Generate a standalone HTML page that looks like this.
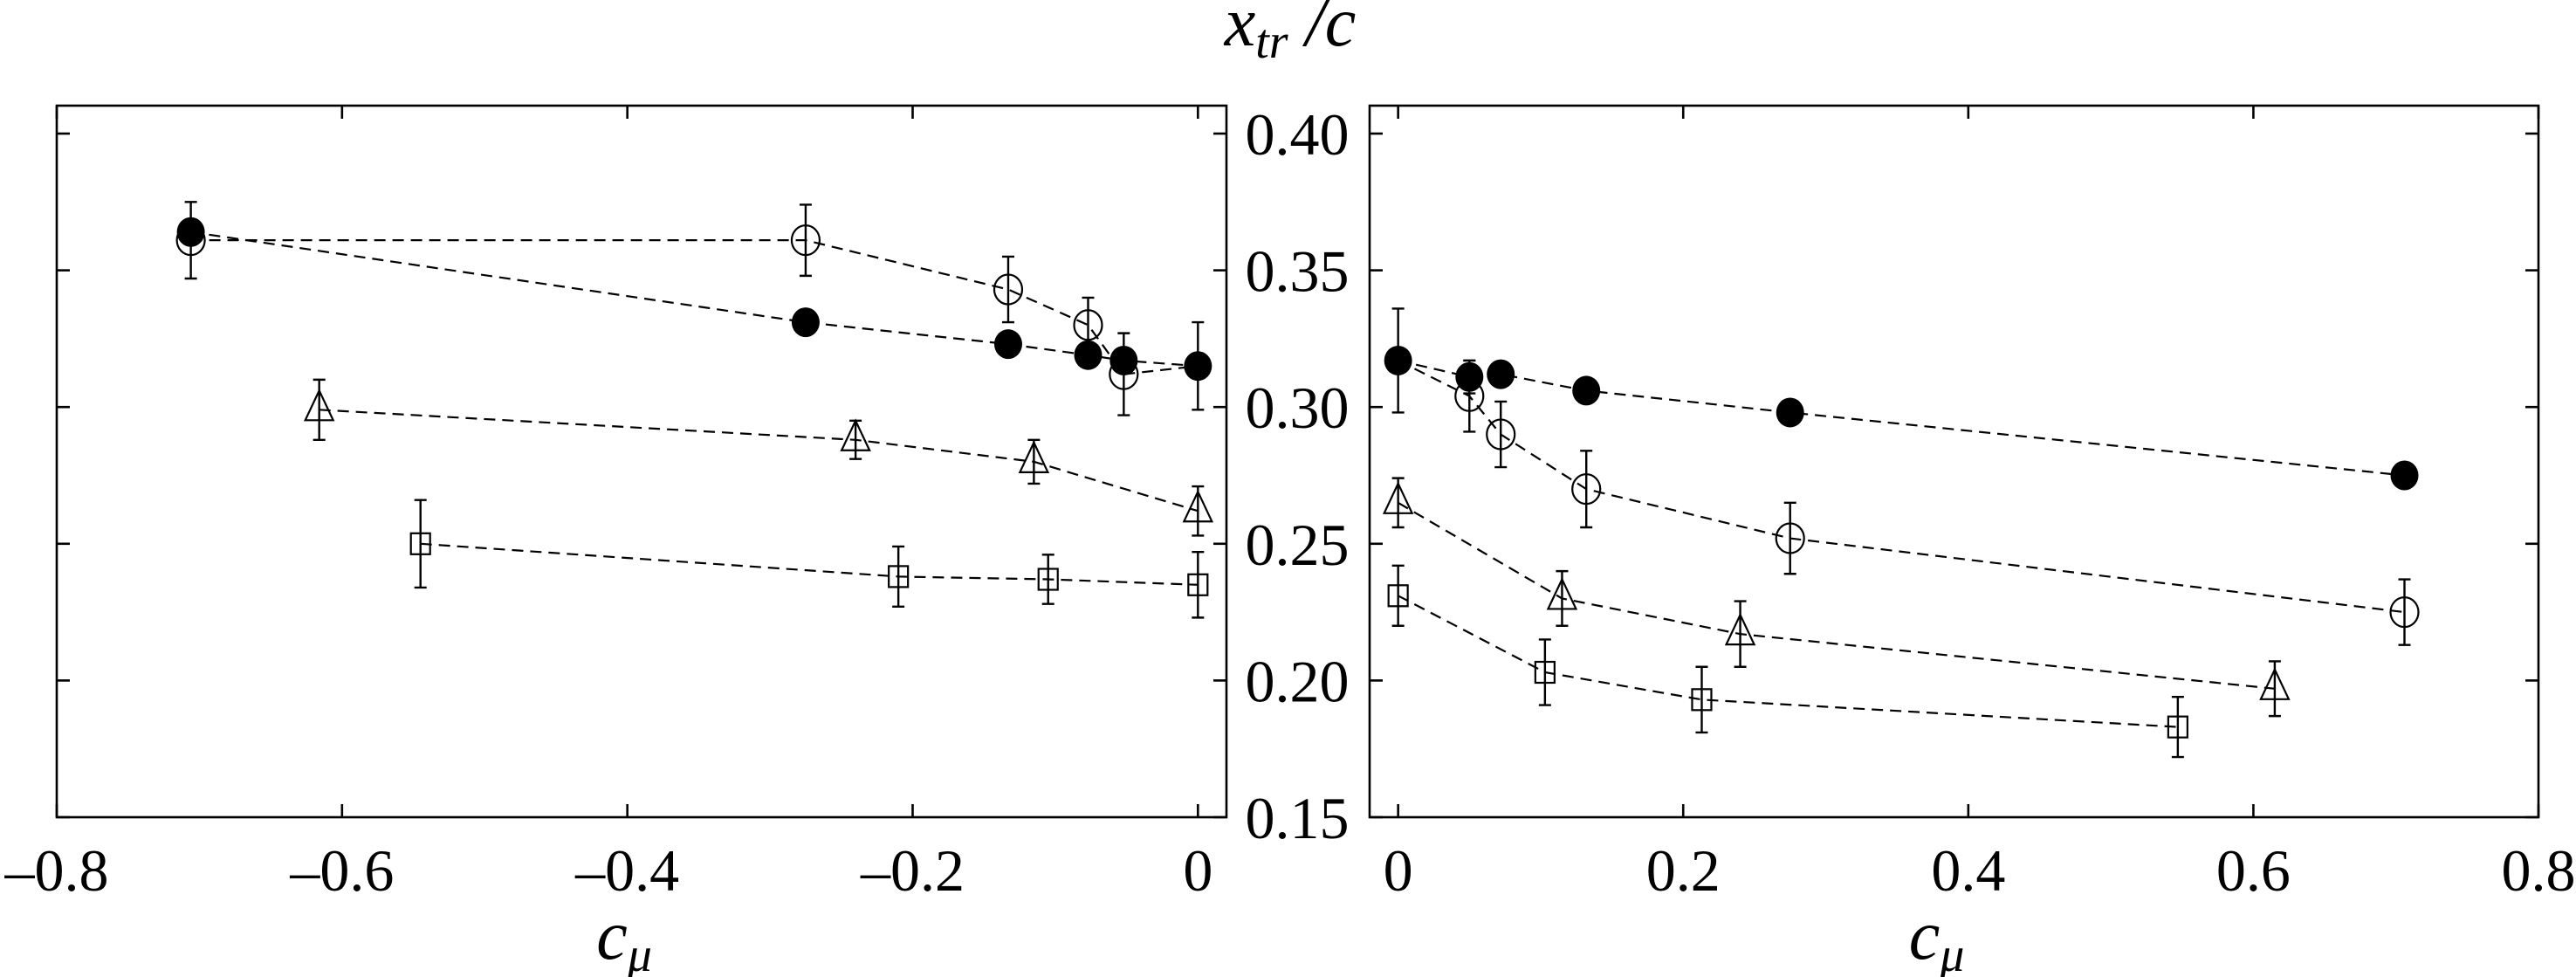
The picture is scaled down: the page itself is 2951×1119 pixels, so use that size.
<!DOCTYPE html>
<html><head><meta charset="utf-8"><style>
html,body{margin:0;padding:0;background:#fff;}
svg{display:block;}
svg text{font-family:"Liberation Serif","Times New Roman","DejaVu Serif",serif !important;fill:#000;}
</style></head><body>
<svg id="chart" width="2951" height="1119" viewBox="0 0 2951 1119" xmlns="http://www.w3.org/2000/svg" font-family="Liberation Serif, DejaVu Serif, serif">
<text x="1478" y="52" font-size="80" font-style="italic" text-anchor="middle" font-family="Liberation Serif, serif">x<tspan font-size="56" dy="14">tr</tspan><tspan dy="-14"> /c</tspan></text>
<g id="axes"></g>
<g id="marks"></g>
</svg>
<script>
// Left panel data (negative c_mu)
const L_filled_x=[-0.706,-0.275,-0.133,-0.077,-0.052,0];
const L_filled_y=[0.364,0.331,0.323,0.319,0.317,0.315];
const L_filled_e=[0,0,0,0,0,0.016];
const L_open_x=[-0.706,-0.275,-0.133,-0.077,-0.052];
const L_open_y=[0.361,0.361,0.343,0.330,0.312];
const L_open_e=[0.014,0.013,0.012,0.010,0.015];
const L_tri_x=[-0.616,-0.240,-0.115,0];
const L_tri_y=[0.299,0.288,0.280,0.262];
const L_tri_e=[0.011,0.007,0.008,0.009];
const L_sq_x=[-0.545,-0.210,-0.105,0];
const L_sq_y=[0.250,0.238,0.237,0.235];
const L_sq_e=[0.016,0.011,0.009,0.012];
// Right panel data (positive c_mu)
const R_filled_x=[0,0.050,0.072,0.132,0.275,0.706];
const R_filled_y=[0.317,0.311,0.312,0.306,0.298,0.275];
const R_filled_e=[0.019,0.006,0,0,0,0];
const R_open_x=[0.050,0.072,0.132,0.275,0.706];
const R_open_y=[0.304,0.290,0.270,0.252,0.225];
const R_open_e=[0.013,0.012,0.014,0.013,0.012];
const R_tri_x=[0,0.115,0.240,0.615];
const R_tri_y=[0.265,0.230,0.217,0.197];
const R_tri_e=[0.009,0.010,0.012,0.010];
const R_sq_x=[0,0.103,0.213,0.547];
const R_sq_y=[0.231,0.203,0.193,0.183];
const R_sq_e=[0.011,0.012,0.012,0.011];
const yTicks=[0.15,0.20,0.25,0.30,0.35,0.40];
const yTickLabels=["0.15","0.20","0.25","0.30","0.35","0.40"];
const xTicksL=[-0.8,-0.6,-0.4,-0.2,0];
const xTickLabelsL=["\u20130.8","\u20130.6","\u20130.4","\u20130.2","0"];
const xTicksR=[0,0.2,0.4,0.6,0.8];
const xTickLabelsR=["0","0.2","0.4","0.6","0.8"];

const NS="http://www.w3.org/2000/svg";
const FF="Liberation Serif, DejaVu Serif, serif";
const axes=document.getElementById('axes'), marks=document.getElementById('marks');
const yTop=121,yBot=936;
function Y(v){return 936-(v-0.15)*3132;}
const panels=[
 {name:'left',x0:65,x1:1405,dmin:-0.8,dmax:0.02,ticks:xTicksL,labels:xTickLabelsL},
 {name:'right',x0:1569,x1:2908,dmin:-0.02,dmax:0.8,ticks:xTicksR,labels:xTickLabelsR}
];
panels.forEach(p=>{p.X=v=>p.x0+(v-p.dmin)/(p.dmax-p.dmin)*(p.x1-p.x0);});
function mk(tag,attrs,parent){const e=document.createElementNS(NS,tag);for(const k in attrs)e.setAttribute(k,attrs[k]);parent.appendChild(e);return e;}

panels.forEach(p=>{
 const r=mk('rect',{x:p.x0,y:yTop,width:p.x1-p.x0,height:yBot-yTop,fill:'none',stroke:'#000','stroke-width':2.6},axes);
 
 
 p.ticks.forEach((t,i)=>{
  const x=p.X(t);
  mk('line',{x1:x,x2:x,y1:yBot,y2:yBot-15,stroke:'#000','stroke-width':2.6},axes);
  mk('line',{x1:x,x2:x,y1:yTop,y2:yTop+15,stroke:'#000','stroke-width':2.6},axes);
  const tx=mk('text',{x:x,y:1020,'font-size':68,'text-anchor':'middle','font-family':FF},axes);
  tx.textContent=p.labels[i];
  
  
 });
 yTicks.forEach(t=>{
  const y=Y(t);
  mk('line',{x1:p.x0,x2:p.x0+15,y1:y,y2:y,stroke:'#000','stroke-width':2.6},axes);
  mk('line',{x1:p.x1,x2:p.x1-15,y1:y,y2:y,stroke:'#000','stroke-width':2.6},axes);
 });
 const xl=mk('text',{x:(p.x0+p.x1)/2-20,y:1098,'font-size':80,'font-style':'italic','text-anchor':'middle','font-family':FF},axes);
 xl.innerHTML='c<tspan font-size="56" dy="14">\u03bc</tspan>';
 
 
});
yTicks.forEach((t,i)=>{
 const tx=mk('text',{x:1486,y:Y(t)+24,'font-size':68,'text-anchor':'middle','font-family':FF},axes);
 tx.textContent=yTickLabels[i];
 
 
});

function series(p,xs,ys,es,shape,name,lineStart){
 const pts=xs.map((x,i)=>[p.X(x),Y(ys[i])]);
 const linePts=lineStart?[[p.X(lineStart[0]),Y(lineStart[1])]].concat(pts):pts;
 const pl=mk('polyline',{points:linePts.map(q=>q.join(',')).join(' '),fill:'none',stroke:'#000','stroke-width':2.2,'stroke-dasharray':'13 8'},marks);
 
 
 pts.forEach((q,i)=>{
  const [x,y]=q;
  if(es[i]>0){
   const e=es[i]*3132;
   const g=mk('path',{d:`M${x},${y-e}V${y+e}M${x-7},${y-e}H${x+7}M${x-7},${y+e}H${x+7}`,stroke:'#000','stroke-width':2.4,fill:'none'},marks);
   
   
  }
  let m;
  if(shape==='filled') m=mk('ellipse',{cx:x,cy:y,rx:16,ry:17,fill:'#000'},marks);
  else if(shape==='open') m=mk('ellipse',{cx:x,cy:y,rx:16,ry:17,fill:'none',stroke:'#000','stroke-width':2.2},marks);
  else if(shape==='tri') m=mk('polygon',{points:`${x},${y-22} ${x-16},${y+12} ${x+16},${y+12}`,fill:'none',stroke:'#000','stroke-width':2.2},marks);
  else m=mk('rect',{x:x-11,y:y-12,width:22,height:24,fill:'none',stroke:'#000','stroke-width':2.2},marks);
  
  
 });
}
const P=panels[0],Q=panels[1];
series(P,L_sq_x,L_sq_y,L_sq_e,'sq','left-square');
series(P,L_tri_x,L_tri_y,L_tri_e,'tri','left-triangle');
series(P,L_open_x,L_open_y,L_open_e,'open','left-open-circle');
(function(){const a=P.X(L_open_x[L_open_x.length-1]),b=Y(L_open_y[L_open_y.length-1]);
 const l=mk('line',{x1:a,y1:b,x2:P.X(L_filled_x[L_filled_x.length-1]),y2:Y(L_filled_y[L_filled_y.length-1]),stroke:'#000','stroke-width':2.2,'stroke-dasharray':'13 8'},marks);
 
 })();
series(P,L_filled_x,L_filled_y,L_filled_e,'filled','left-filled-circle');
series(Q,R_sq_x,R_sq_y,R_sq_e,'sq','right-square');
series(Q,R_tri_x,R_tri_y,R_tri_e,'tri','right-triangle');
series(Q,R_open_x,R_open_y,R_open_e,'open','right-open-circle',[R_filled_x[0],R_filled_y[0]]);
series(Q,R_filled_x,R_filled_y,R_filled_e,'filled','right-filled-circle');
</script>
</body></html>
